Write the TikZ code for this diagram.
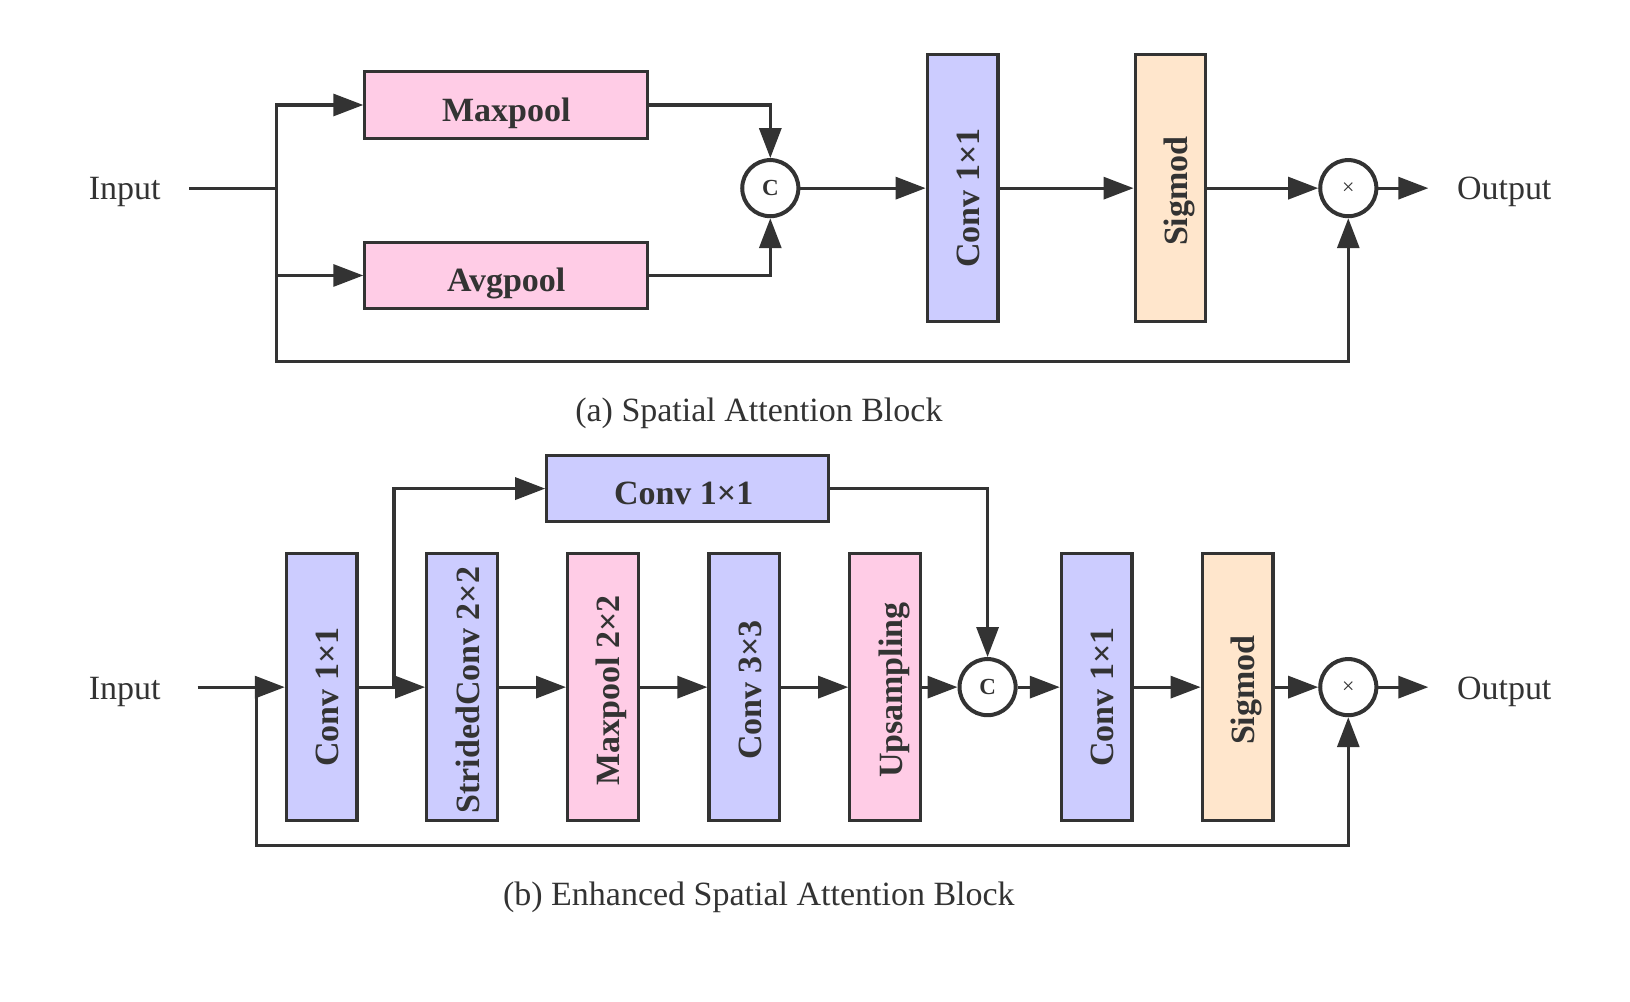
\documentclass[tikz,border=0pt]{standalone}
\usepackage{fontspec}
\setmainfont{Liberation Serif}
\usetikzlibrary{arrows.meta,calc}
\definecolor{ln}{HTML}{333333}
\definecolor{bluef}{HTML}{CCCCFF}
\definecolor{pinkf}{HTML}{FFCCE6}
\definecolor{peachf}{HTML}{FFE6CC}
\begin{document}
\begin{tikzpicture}[x=0.52pt,y=-0.52pt,
  every node/.style={text=ln},
  conn/.style={draw=ln, line width=1.6pt},
  arr/.style={conn, -{Triangle[length=15pt,width=11pt]}},
  hbox/.style={draw=ln, line width=1.6pt, inner sep=0pt, minimum width=272*0.52pt, minimum height=64*0.52pt, text height=16.2pt, text depth=0pt, font=\fontsize{17}{20}\selectfont\bfseries},
  vbox/.style={draw=ln, line width=1.6pt, inner sep=0pt, rotate=90, minimum width=257*0.52pt, minimum height=68*0.52pt, text height=17pt, text depth=0pt, font=\fontsize{17}{20}\selectfont\bfseries},
  op/.style={circle, draw=ln, line width=2pt, fill=white, minimum size=54*0.52pt, inner sep=0pt},
  lbl/.style={font=\fontsize{17}{20}\selectfont, anchor=base},
  captxt/.style={font=\fontsize{17}{20}\selectfont, anchor=base}
]
\useasboundingbox (0,0) rectangle (1568,963);

% ---------- (a) ----------
\node[lbl] (inA) at (120,192) {Input};
\node[lbl] (outA) at (1447,192) {Output};
\node[hbox, fill=pinkf] (maxp) at (487,101) {Maxpool};
\node[hbox, fill=pinkf] (avgp) at (487,265) {Avgpool};
\node[op] (cA) at (741,181) {\fontsize{11.5}{12}\selectfont\bfseries C};
\node[vbox, fill=bluef] (convA) at (926,181) {Conv 1×1\hspace*{10pt}};
\node[vbox, fill=peachf] (sigA) at (1126,181) {Sigmod\hspace*{3pt}};
\node[op] (xA) at (1297,181) {\fontsize{11}{12}\selectfont ×};
\coordinate (inStartA) at (182,181);
\coordinate (splitA) at (266,181);
\coordinate (botA) at (266,348);
\coordinate (outEndA) at (1374,181);

\draw[conn] (inStartA) -- (splitA);
\draw[arr] (splitA) |- (maxp.west);
\draw[arr] (splitA) |- (avgp.west);
\draw[arr] (splitA) -- (botA) -| (xA.south);
\draw[arr] (maxp.east) -| (cA.north);
\draw[arr] (avgp.east) -| (cA.south);
\draw[arr] (cA) -- (convA);
\draw[arr] (convA) -- (sigA);
\draw[arr] (sigA) -- (xA);
\draw[arr] (xA) -- (outEndA);

\node[captxt] (capA) at (730,405) {(a) Spatial Attention Block};

% ---------- (b) ----------
\node[lbl] (inB) at (120,673) {Input};
\node[lbl] (outB) at (1447,673) {Output};
\node[hbox, fill=bluef, minimum width=271*0.52pt] (topConv) at (661.5,470) {Conv 1×1\hspace*{4pt}};
\node[vbox, fill=bluef] (c1) at (309.5,661) {Conv 1×1\hspace*{10pt}};
\node[vbox, fill=bluef] (sc) at (444.5,661) {StridedConv 2×2\hspace*{3pt}};
\node[vbox, fill=pinkf] (mp) at (580,661) {Maxpool 2×2\hspace*{3pt}};
\node[vbox, fill=bluef] (c3) at (716,661) {Conv 3×3\hspace*{3pt}};
\node[vbox, fill=pinkf] (up) at (851.5,661) {Upsampling\hspace*{3pt}};
\node[op] (cB) at (950,661) {\fontsize{11.5}{12}\selectfont\bfseries C};
\node[vbox, fill=bluef] (c1b) at (1055,661) {Conv 1×1\hspace*{10pt}};
\node[vbox, fill=peachf] (sigB) at (1190.5,661) {Sigmod\hspace*{3pt}};
\node[op] (xB) at (1297,661) {\fontsize{11}{12}\selectfont ×};
\coordinate (inStartB) at (190,661);
\coordinate (jB) at (247,661);
\coordinate (botB) at (247,813);
\coordinate (branchB) at (379,661);
\coordinate (outEndB) at (1374,661);

\draw[arr] (inStartB) -- (c1);
\draw[arr] (jB) -- (botB) -| (xB.south);
\draw[arr] (c1) -- (sc);
\draw[arr] (branchB) |- (topConv.west);
\draw[arr] (topConv.east) -| (cB.north);
\draw[arr] (sc) -- (mp);
\draw[arr] (mp) -- (c3);
\draw[arr] (c3) -- (up);
\draw[arr] (up) -- (cB);
\draw[arr] (cB) -- (c1b);
\draw[arr] (c1b) -- (sigB);
\draw[arr] (sigB) -- (xB);
\draw[arr] (xB) -- (outEndB);

\node[captxt] (capB) at (730,871) {(b) Enhanced Spatial Attention Block};
\end{tikzpicture}
\end{document}
